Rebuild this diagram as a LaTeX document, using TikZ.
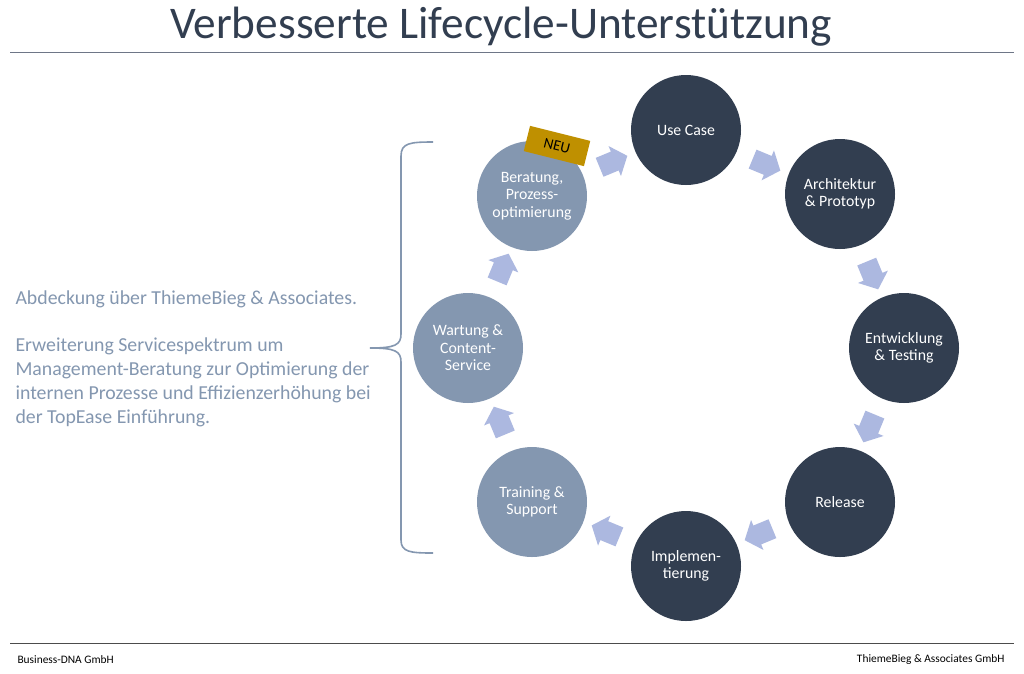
\documentclass[tikz,border=0pt]{standalone}
\usepackage{fontspec}
\setmainfont{Carlito}
\usepackage{tikz}
\usetikzlibrary{positioning,shapes,shapes.arrows,calc}
\usepackage{xcolor}
\definecolor{navy}{RGB}{50,62,80}
\definecolor{steel}{RGB}{132,151,176}
\definecolor{lavender}{RGB}{172,184,224}
\definecolor{gold}{RGB}{191,144,0}
\definecolor{rulegrey}{RGB}{110,118,135}

\begin{document}
\begin{tikzpicture}[x=1pt,y=-1pt,
            darkphase/.style={
                circle,
                fill=navy,
                minimum size=110pt,
                inner sep=0pt,
                text=white,
                align=center,
                font=\fontsize{15.8}{17.5}\selectfont
            },
            lightphase/.style={darkphase, fill=steel},
            flowarrow/.style={
                single arrow,
                fill=lavender,
                minimum height=30pt,
                single arrow head extend=6pt,
                single arrow tip angle=100,
                inner xsep=0pt,
                inner ysep=10pt,
                text height=0pt,
                text depth=0pt
            },
            tag/.style={fill=gold, minimum width=62pt, minimum height=26pt,
                inner sep=0pt, font=\fontsize{15}{18}\selectfont}]
            \useasboundingbox (0,0) rectangle (1024,673);
            \fill[white] (0,0) rectangle (1024,673);
            % title and rules
            \node (title) at (501,27) {\fontsize{45.3}{48}\selectfont\color{navy}Verbesserte Lifecycle-Unterstützung};
            \coordinate (tl) at (10,52);
            \coordinate (tr) at (1014,52);
            \draw[rulegrey, line width=1pt] (tl) -- (tr);
            \coordinate (fl) at (10,643);
            \coordinate (fr) at (1014,643);
            \draw[black!70, line width=0.8pt] (fl) -- (fr);
            \node[anchor=west, font=\fontsize{11.4}{14}\selectfont] (footl) at (14,660) {Business-DNA GmbH};
            \node[anchor=east, font=\fontsize{11.4}{14}\selectfont] (footr) at (1008,660) {ThiemeBieg \& Associates GmbH};
            % lifecycle ring
            \node[darkphase] (usecase) at (686,130) {Use Case};
            \node[darkphase] (arch) at (840,194) {Architektur\\\& Prototyp};
            \node[darkphase] (dev) at (904,348) {Entwicklung\\\& Testing};
            \node[darkphase] (release) at (840,502) {Release};
            \node[darkphase] (impl) at (686,566) {Implemen-\\tierung};
            \node[lightphase] (training) at (532,502) {Training \&\\Support};
            \node[lightphase] (maint) at (468,348) {Wartung \&\\Content-\\Service};
            \node[lightphase] (consult) at (532,196) {Beratung,\\Prozess-\\optimierung};
            \node[tag, rotate=-14] (neu) at (557,146) {NEU};
            % arrows between the phases
            \node[flowarrow, rotate=22.5] (a1) at (609.5,163.2) {};
            \node[flowarrow, rotate=-22.5] (a2) at (762.5,163.2) {};
            \node[flowarrow, rotate=-67.5] (a3) at (870.8,271.5) {};
            \node[flowarrow, rotate=-112.5] (a4) at (870.8,424.5) {};
            \node[flowarrow, rotate=-157.5] (a5) at (762.5,532.8) {};
            \node[flowarrow, rotate=157.5] (a6) at (609.5,532.8) {};
            \node[flowarrow, rotate=112.5] (a7) at (501.2,424.5) {};
            \node[flowarrow, rotate=67.5] (a8) at (501.2,271.5) {};
            % brace and coverage text
            \coordinate (btop) at (433,142);
            \coordinate (bbot) at (433,553);
            \coordinate (btip) at (370,348);
            \draw[steel, line width=1.6pt]
                (btop) .. controls (410,142) and (401,143) .. (401,156)
                -- (401,334) .. controls (401,345) and (395,348) .. (btip)
                .. controls (395,348) and (401,351) .. (401,362)
                -- (401,540) .. controls (401,552) and (410,553) .. (bbot);
            \node[anchor=north west, align=left, text=steel,
                  font=\fontsize{19.8}{23.8}\selectfont] (cover) at (12,287)
                {Abdeckung über ThiemeBieg \& Associates.\\[23.8pt]
                 Erweiterung Servicespektrum um\\
                 Management-Beratung zur Optimierung der\\
                 internen Prozesse und Effizienzerhöhung bei\\
                 der TopEase Einführung.};
\end{tikzpicture}
\end{document}
